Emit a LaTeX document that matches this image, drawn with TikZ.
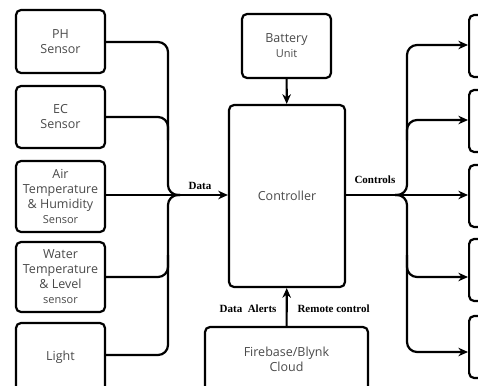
\documentclass[tikz,border=0pt]{standalone}
\usepackage{fontspec}
\setmainfont{Liberation Serif}
\newfontfamily\boxfont{Open Sans}
\usetikzlibrary{arrows.meta, positioning}
\definecolor{boxText}{HTML}{4A4A4A}
\newcommand\lowtxt[1]{{\fontsize{11}{15}\selectfont #1}}
\tikzset{
  lineK/.style={line width=2.2pt, rounded corners=10pt},
  arrowK/.style={-{Stealth[length=3.4mm, width=3mm]}, line width=2.2pt, rounded corners=10pt},
  boxS/.style={rectangle, rounded corners=5pt, draw, line width=2.2pt,
               minimum width=89pt, align=center, text=boxText, inner sep=1pt,
               font=\boxfont\fontsize{12.5}{15}\selectfont},
  lbl/.style={font=\bfseries\fontsize{11}{12}\selectfont},
}
\begin{document}
\begin{tikzpicture}[x=1pt, y=-1pt]
    \clip (0,0) rectangle (478,385);
    \fill[white] (0,0) rectangle (478,385);

    % sensores (izquierda)
    \node[boxS, minimum height=63pt] (ph) at (60.5,41.5) {PH\\Sensor};
    \node[boxS, minimum height=62pt] (ec) at (60.5,117) {EC\\Sensor};
    \node[boxS, minimum height=71pt] (air) at (60.5,196.5)
         {Air\\Temperature\\\& Humidity\\\lowtxt{Sensor}};
    \node[boxS, minimum height=70pt] (water) at (60.5,277)
         {Water\\Temperature\\\& Level\\\lowtxt{sensor}};
    \node[boxS, minimum height=68pt] (light) at (60.5,357) {Light};

    % controlador, bateria y nube
    \node[boxS, minimum width=116pt, minimum height=182pt] (ctrl) at (287,196) {Controller};
    \node[boxS, minimum height=64pt] (bat) at (286.5,46) {Battery\\\lowtxt{Unit}};
    \node[boxS, minimum width=163pt, minimum height=64pt] (cloud) at (286.5,359)
         {Firebase/Blynk\\Cloud};

    % actuadores (derecha)
    \foreach \y [count=\i] in {46,121,196,270,347} {
      \node[boxS, minimum height=62pt, anchor=west] (act\i) at (468,\y) {};
    }

    % puntos de union
    \coordinate (dj) at (180,195);
    \coordinate (cj) at (395,195);

    % Data -> controlador
    \draw[lineK] (ph.east |- 0,42) -| (168,195) -- (dj);
    \draw[lineK] (ec.east |- 0,117) -| (168,140);
    \draw[lineK] (water.east |- 0,277) -| (168,255);
    \draw[lineK] (light.east |- 0,355) -| (168,195) -- (dj);
    \draw[arrowK] (air.east |- 0,195) -- (ctrl.west |- 0,195);
    \node[lbl, above=2pt of dj, xshift=20pt] (data) {Data};

    % bateria y nube
    \draw[arrowK] (bat) -- (ctrl);
    \draw[arrowK] (cloud) -- (ctrl);
    \node[lbl, anchor=east] (alerts) at (280,309) {Data\ \ Alerts};
    \node[lbl, anchor=west] (remote) at (294,309) {Remote control};

    % Controls -> actuadores
    \draw[arrowK] (ctrl.east |- 0,195) -- (act3.west |- 0,195);
    \draw[arrowK] (cj) -| (407,45) -- (act1.west |- 0,45);
    \draw[arrowK] (407,140) |- (act2.west |- 0,120);
    \draw[arrowK] (cj) -| (407,352) -- (act5.west |- 0,352);
    \draw[arrowK] (407,255) |- (act4.west |- 0,277);
    \node[lbl, anchor=south west] (controls) at (351,187) {Controls};
\end{tikzpicture}
\end{document}
